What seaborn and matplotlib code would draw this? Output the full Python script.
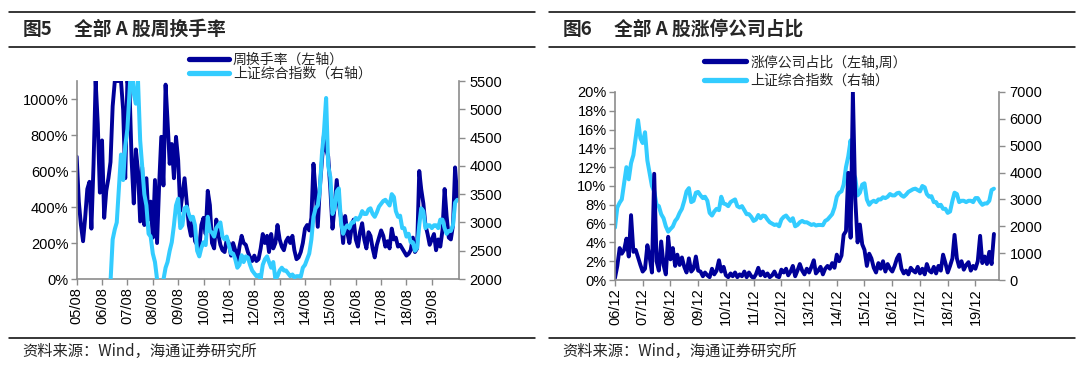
import numpy as np
import pandas as pd
import matplotlib
matplotlib.use('Agg')
import matplotlib.pyplot as plt
from matplotlib.lines import Line2D
import seaborn as sns

# ---- data (monthly readings) ----
# fig 5: weekly turnover (%), 2005-08 .. 2020-08
turnover = [
    680, 430, 300, 210, 340,
    500, 540, 280, 640, 1100, 860, 480, 770, 340, 490, 560, 650,
    960, 1100, 1100, 1100, 1100, 940, 560, 1100, 1050, 660, 420, 720,
    600, 320, 620, 300, 560, 330, 430, 230, 550, 200, 530, 790,
    520, 1080, 880, 640, 750, 560, 790, 660, 380, 470, 560, 430,
    300, 240, 330, 210, 190, 170, 300, 340, 250, 490, 410, 200,
    170, 330, 250, 190, 160, 150, 220, 200, 130, 200, 160, 100,
    180, 240, 200, 190, 150, 120, 100, 130, 100, 110, 170, 250,
    200, 240, 150, 250, 170, 200, 300, 220, 180, 160, 210, 230,
    200, 240, 160, 110, 120, 150, 200, 280, 300, 270, 340, 640,
    480, 290, 500, 650, 800, 720, 680, 500, 280, 400, 550, 420,
    340, 200, 350, 260, 200, 280, 330, 220, 180, 260, 310, 220,
    170, 260, 240, 170, 120, 190, 230, 270, 240, 180, 210, 170,
    280, 220, 230, 180, 190, 170, 150, 130, 140, 160, 230, 150,
    170, 600, 500, 420, 300, 250, 190, 220, 250, 160, 220, 180,
    270, 500, 350, 230, 220, 300, 620, 450,
]

# Shanghai composite, 2005-08 .. 2020-08
sse = [
    1160, 1150, 1100, 1090, 1160,
    1260, 1300, 1300, 1440, 1640, 1670, 1610, 1600, 1750, 1840, 1950, 1950,
    2700, 2880, 3000, 3600, 4200, 3750, 4350, 4650, 5300, 5950, 5280, 5100,
    5500, 4450, 4000, 3500, 3300, 2800, 2750, 2450, 2300, 2000, 1800, 1900,
    1990, 2200, 2300, 2500, 2650, 2950, 3300, 3420, 2900, 2950, 3250, 3280,
    3150, 3050, 3100, 2950, 2500, 2400, 2550, 2650, 2600, 3100, 2850, 2820,
    2750, 2900, 2950, 3000, 2750, 2700, 2750, 2600, 2450, 2450, 2350, 2200,
    2250, 2420, 2300, 2400, 2380, 2250, 2150, 2100, 2050, 2070, 2000, 2250,
    2350, 2400, 2300, 2200, 2300, 2000, 2050, 2150, 2200, 2150, 2150, 2100,
    2050, 2080, 2030, 2050, 2050, 2040, 2200, 2250, 2350, 2450, 2700, 3100,
    3250, 3300, 3550, 4200, 4600, 5200, 4000, 3800, 3150, 3250, 3550, 3600,
    3000, 2800, 2900, 2950, 2900, 3000, 3000, 3080, 3050, 3100, 3200, 3150,
    3150, 3230, 3250, 3150, 3100, 3180, 3280, 3330, 3380, 3400, 3350, 3300,
    3500, 3450, 3200, 3100, 3120, 2900, 2900, 2750, 2800, 2650, 2650, 2500,
    2550, 2950, 3250, 3200, 2900, 2950, 2950, 2900, 2950, 2950, 2900, 3050,
    3050, 2900, 2800, 2850, 2850, 2950, 3350, 3400,
]

# fig 6: share of limit-up stocks (%), 2006-12 .. 2020-08
limit_up = [
    0.2,
    1.5, 3.4, 2.8, 3.2, 4.4, 2.5, 6.9, 3.0, 3.2, 2.4, 1.6, 0.9,
    1.2, 3.7, 2.5, 0.8, 11.3, 2.0, 1.0, 4.1, 1.6, 0.6, 4.6, 2.2,
    3.4, 1.5, 2.7, 1.6, 2.4, 1.4, 0.8, 2.3, 0.9, 1.2, 2.5, 1.0,
    0.9, 0.4, 0.8, 0.5, 0.3, 1.2, 0.6, 1.0, 2.1, 0.9, 1.4, 0.5,
    0.3, 0.7, 0.4, 0.8, 0.3, 0.6, 0.4, 0.9, 0.3, 0.8, 0.4, 0.2,
    0.6, 1.3, 0.5, 0.9, 0.4, 0.7, 0.3, 0.5, 0.9, 0.4, 0.3, 1.1,
    0.8, 1.2, 0.5, 0.9, 1.5, 0.4, 1.0, 1.7, 1.0, 0.6, 1.2, 0.8,
    1.4, 2.1, 0.7, 1.0, 1.4, 0.6, 1.2, 1.5, 1.2, 1.8, 1.3, 2.7,
    2.0, 2.6, 4.8, 5.2, 11.4, 4.5, 20.0, 8.7, 4.0, 5.9, 3.8, 3.2,
    1.5, 2.8, 2.3, 1.3, 0.8, 1.8, 1.2, 2.0, 0.9, 1.7, 1.2, 0.9,
    1.5, 2.3, 2.7, 1.2, 0.7, 1.0, 0.6, 1.3, 1.0, 0.8, 1.4, 0.7,
    1.2, 0.6, 1.7, 1.0, 0.8, 1.4, 0.7, 1.5, 1.0, 2.7, 1.8, 0.8,
    1.5, 2.3, 4.8, 2.3, 1.4, 2.0, 1.1, 1.6, 1.9, 1.0, 1.5, 1.2,
    2.0, 4.7, 1.8, 2.5, 1.7, 3.0, 1.7, 4.9,
]

left_ticklabels = ['05/08', '06/08', '07/08', '08/08', '09/08', '10/08', '11/08', '12/08',
                   '13/08', '14/08', '15/08', '16/08', '17/08', '18/08', '19/08']
right_ticklabels = ['06/12', '07/12', '08/12', '09/12', '10/12', '11/12', '12/12',
                    '13/12', '14/12', '15/12', '16/12', '17/12', '18/12', '19/12']
turnover_ticks = [0, 200, 400, 600, 800, 1000]
sse_ticks_5 = [2000, 2500, 3000, 3500, 4000, 4500, 5000, 5500]
limit_ticks = [0, 2, 4, 6, 8, 10, 12, 14, 16, 18, 20]
sse_ticks_6 = [0, 1000, 2000, 3000, 4000, 5000, 6000, 7000]

left_dates = pd.date_range('2005-08-01', periods=len(turnover), freq='MS')
right_dates = pd.date_range('2006-12-01', periods=len(limit_up), freq='MS')

df5 = pd.DataFrame({'date': left_dates, 'turnover': turnover, 'sse': sse})
df6 = pd.DataFrame({'date': right_dates, 'limit_up': limit_up, 'sse': sse[16:]})

# ---- style ----
DARK = '#000099'
LIGHT = '#33CCFF'
GRAY = '#8c8c8c'
CJK = ['Noto Sans CJK SC', 'DejaVu Sans']

sns.set_theme(style='white')
plt.rcParams['font.family'] = ['Liberation Sans', 'Noto Sans CJK SC']


def style_axes(ax, axr):
    for s in ['top', 'right']:
        ax.spines[s].set_visible(False)
    for s in ['top', 'left', 'bottom']:
        axr.spines[s].set_visible(False)
    for sp in [ax.spines['left'], ax.spines['bottom'], axr.spines['right']]:
        sp.set_visible(True)
        sp.set_color(GRAY)
        sp.set_linewidth(1.2)
    ax.tick_params(axis='both', which='both', bottom=True, left=True, direction='out',
                   length=4, width=1, color=GRAY, labelsize=10.5, labelcolor='black', pad=2)
    ax.tick_params(axis='x', rotation=90)
    axr.tick_params(axis='y', right=True, direction='out', length=4, width=1,
                    color=GRAY, labelsize=10.5, labelcolor='black', pad=4)
    ax.set_xlabel('')
    ax.set_ylabel('')
    axr.set_ylabel('')


fig = plt.figure(figsize=(10.8, 3.7), dpi=100)

# ---- fig 5 ----
ax1 = fig.add_axes([0.0710, 0.2459, 0.3536, 0.5351])
ax1r = ax1.twinx()
sns.lineplot(data=df5, x='date', y='turnover', ax=ax1, color=DARK, linewidth=2.8, estimator=None)
sns.lineplot(data=df5, x='date', y='sse', ax=ax1r, color=LIGHT, linewidth=2.9, estimator=None)
ax1.set_xlim(pd.Timestamp('2005-08-01'), pd.Timestamp('2020-08-20'))
ax1.set_ylim(0, 1100)
ax1r.set_ylim(2000, 5500)
ax1.set_xticks(pd.date_range('2005-08-01', periods=len(left_ticklabels), freq='12MS'))
ax1.set_xticklabels(left_ticklabels)
ax1.set_yticks(turnover_ticks)
ax1.set_yticklabels([f'{v}%' for v in turnover_ticks])
ax1r.set_yticks(sse_ticks_5)
style_axes(ax1, ax1r)

# ---- fig 6 ----
ax2 = fig.add_axes([0.5694, 0.2432, 0.3552, 0.5082])
ax2r = ax2.twinx()
sns.lineplot(data=df6, x='date', y='sse', ax=ax2r, color=LIGHT, linewidth=2.9, estimator=None)
sns.lineplot(data=df6, x='date', y='limit_up', ax=ax2, color=DARK, linewidth=2.8, estimator=None)
ax2.set_zorder(ax2r.get_zorder() + 1)
ax2.patch.set_visible(False)
ax2.set_xlim(pd.Timestamp('2006-12-01'), pd.Timestamp('2020-10-01'))
ax2.set_ylim(0, 20)
ax2r.set_ylim(0, 7000)
ax2.set_xticks(pd.date_range('2006-12-01', periods=len(right_ticklabels), freq='12MS'))
ax2.set_xticklabels(right_ticklabels)
ax2.set_yticks(limit_ticks)
ax2.set_yticklabels([f'{v}%' for v in limit_ticks])
ax2r.set_yticks(sse_ticks_6)
style_axes(ax2, ax2r)

# ---- legends ----
h = [Line2D([0], [0], color=DARK, lw=3.8), Line2D([0], [0], color=LIGHT, lw=3.8)]
fig.legend(h, ['周换手率（左轴）', '上证综合指数（右轴）'], loc='upper left',
           bbox_to_anchor=(0.1746, 0.858), frameon=False, prop={'family': CJK, 'size': 10},
           handlelength=2.9, handletextpad=0.3, labelspacing=0.0, borderpad=0, borderaxespad=0)
fig.legend(h, ['涨停公司占比（左轴,周）', '上证综合指数（右轴）'], loc='upper left',
           bbox_to_anchor=(0.6522, 0.853), frameon=False, prop={'family': CJK, 'size': 10},
           handlelength=3.0, handletextpad=0.3, labelspacing=0.35, borderpad=0, borderaxespad=0)

# ---- titles, rules, sources ----
for x0, x1, num, title in [(0.008, 0.4954, '图5', '全部 A 股周换手率'),
                           (0.508, 0.9954, '图6', '全部 A 股涨停公司占比')]:
    for y in [0.9684, 0.8738, 0.0873]:
        fig.add_artist(Line2D([x0, x1], [y, y], transform=fig.transFigure, color='black', lw=1.1))
    fig.text(x0 + 0.0128, 0.9208, num, family=CJK, fontsize=13.5, weight='bold', va='center')
    fig.text(x0 + 0.0608, 0.9208, title, family=CJK, fontsize=13.5, weight='bold', va='center')
    fig.text(x0 + 0.0128, 0.0495, '资料来源：Wind，海通证券研究所', family=CJK, fontsize=11, va='center')

fig.savefig('out.png', dpi=100)
